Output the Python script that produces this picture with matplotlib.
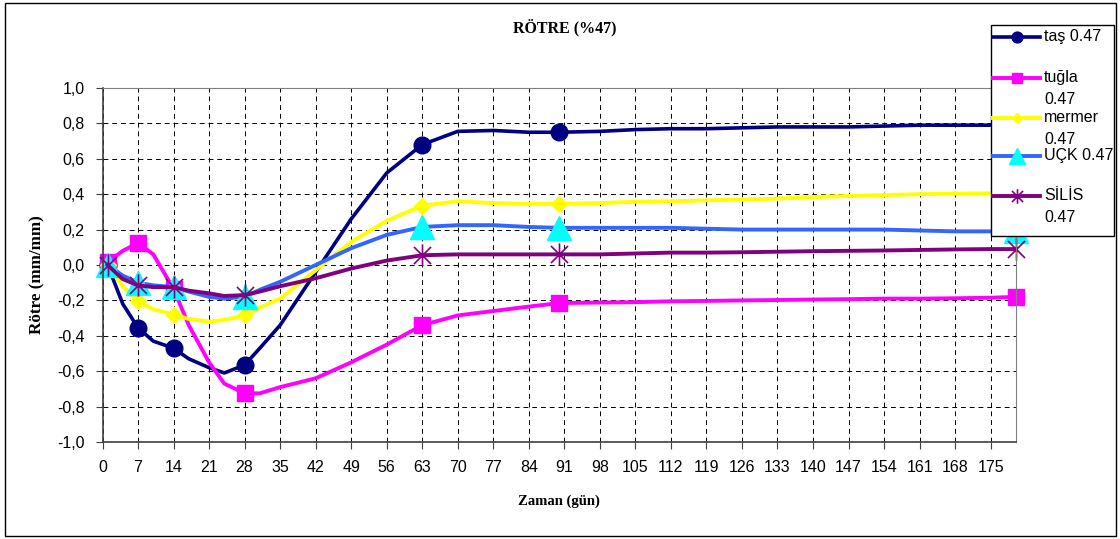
import numpy as np
import matplotlib
matplotlib.use("Agg")
import matplotlib.pyplot as plt
from matplotlib.path import Path
from matplotlib.lines import Line2D
from matplotlib.patches import Rectangle

# days (markers only at some of them)
days = [1, 4, 7, 10, 14, 17, 21, 24, 28, 31, 35, 42, 49, 56, 63, 70, 77, 84, 90,
        98, 105, 112, 119, 126, 133, 140, 147, 154, 161, 168, 175, 180]
marker_days = [1, 7, 14, 28, 63, 90, 180]

tas = [0.0, -0.22, -0.355, -0.43, -0.47, -0.53, -0.58, -0.61, -0.565, -0.47, -0.34,
       -0.04, 0.26, 0.52, 0.68, 0.755, 0.76, 0.75, 0.75, 0.755, 0.765, 0.77, 0.77,
       0.775, 0.78, 0.78, 0.78, 0.785, 0.79, 0.79, 0.79, 0.80]
tugla = [0.015, 0.08, 0.125, 0.06, -0.135, -0.34, -0.55, -0.67, -0.725, -0.725, -0.69,
         -0.64, -0.55, -0.45, -0.34, -0.285, -0.26, -0.235, -0.215, -0.212, -0.21,
         -0.205, -0.203, -0.2, -0.198, -0.195, -0.193, -0.19, -0.19, -0.188, -0.185, -0.18]
mermer = [0.0, -0.12, -0.205, -0.25, -0.28, -0.305, -0.32, -0.31, -0.285, -0.24, -0.19,
          -0.03, 0.13, 0.25, 0.335, 0.36, 0.35, 0.345, 0.345, 0.35, 0.357, 0.36, 0.365,
          0.37, 0.375, 0.385, 0.39, 0.395, 0.40, 0.403, 0.405, 0.41]
uck = [0.0, -0.06, -0.10, -0.115, -0.125, -0.15, -0.18, -0.19, -0.18, -0.14, -0.095,
       0.0, 0.095, 0.17, 0.215, 0.225, 0.225, 0.215, 0.21, 0.21, 0.21, 0.21, 0.205,
       0.20, 0.20, 0.20, 0.20, 0.20, 0.195, 0.19, 0.19, 0.19]
silis = [0.0, -0.08, -0.115, -0.125, -0.125, -0.145, -0.16, -0.175, -0.17, -0.15, -0.12,
         -0.075, -0.02, 0.025, 0.055, 0.06, 0.06, 0.06, 0.06, 0.06, 0.065, 0.07, 0.07,
         0.072, 0.075, 0.078, 0.08, 0.082, 0.085, 0.088, 0.09, 0.09]

labels = ["taş 0.47", "tuğla\n0.47", "mermer\n0.47", "UÇK 0.47", "SİLİS\n0.47"]
xticks = list(range(0, 176, 7))
yticks = [-1.0, -0.8, -0.6, -0.4, -0.2, 0.0, 0.2, 0.4, 0.6, 0.8, 1.0]
ytick_labels = ["-1,0", "-0,8", "-0,6", "-0,4", "-0,2", "0,0", "0,2", "0,4", "0,6", "0,8", "1,0"]

# excel style asterisk marker: X plus a vertical bar
star = Path([(-1, -1), (1, 1), (-1, 1), (1, -1), (0, -1.3), (0, 1.3)],
            [Path.MOVETO, Path.LINETO, Path.MOVETO, Path.LINETO, Path.MOVETO, Path.LINETO])

styles = [
    dict(color='#000080', lw=2.6, marker='o', ms=12, mfc='#000080', mec='#000080'),
    dict(color='#FF00FF', lw=2.8, marker='s', ms=11, mfc='#FF00FF', mec='#FF00FF'),
    dict(color='#FFFF00', lw=2.8, marker='D', ms=8.5, mfc='#FFFF00', mec='#FFFF00'),
    dict(color='#3366FF', lw=2.8, marker='^', ms=17, mfc='#00FFFF', mec='#00FFFF'),
    dict(color='#800080', lw=2.8, marker=star, ms=16, mfc='none', mec='#800080', mew=1.2),
]
series = [tas, tugla, mermer, uck, silis]

W, H = 1120, 539
fig = plt.figure(figsize=(W / 100, H / 100), dpi=100)
ax = fig.add_axes([102.5 / W, 1 - 442 / H, (1016 - 102.5) / W, (442 - 88) / H])

mark_idx = [days.index(d) for d in marker_days]
for ys, st in zip(series, styles):
    ax.plot(days, ys, markevery=mark_idx, solid_joinstyle='round', clip_on=False, **st)

ax.set_xlim(0, 180)
ax.set_ylim(-1.0, 1.0)
ax.set_xticks(xticks)
ax.set_xticklabels([str(t) for t in xticks])
ax.set_yticks(yticks)
ax.set_yticklabels(ytick_labels)
ax.tick_params(labelsize=11.5, length=5, width=0.8, color='#404040', pad=8)
for lab in ax.get_xticklabels() + ax.get_yticklabels():
    lab.set_family('Liberation Sans')
ax.grid(True, color='black', linestyle=(0, (5, 4)), linewidth=0.7)
ax.set_axisbelow(True)
for s in ['top', 'right']:
    ax.spines[s].set_color('#808080')
for s in ['left', 'bottom']:
    ax.spines[s].set_color('#404040')
    ax.spines[s].set_linewidth(1.2)

ax.set_xlabel("Zaman (gün)", fontfamily='Liberation Serif', fontweight='bold', fontsize=10.5, labelpad=14)
ax.set_ylabel("Rötre (mm/mm)", fontfamily='Liberation Serif', fontweight='bold', fontsize=12.3)
ax.yaxis.set_label_coords(-0.063, 0.472)
fig.text(565 / W, 1 - 28 / H, "RÖTRE (%47)", ha='center', va='center',
         fontfamily='Liberation Serif', fontweight='bold', fontsize=11.5)

# outer chart border
fig.add_artist(Rectangle((5 / W, 3 / H), (W - 9) / W, (H - 6) / H, transform=fig.transFigure,
                         fill=False, ec='black', lw=1.0))

# legend box drawn by hand (excel wraps long labels)
fig.add_artist(Rectangle((991 / W, 1 - 236 / H), (1114 - 991) / W, (236 - 25) / H,
                         transform=fig.transFigure, fc='white', ec='black', lw=1.0, zorder=5))
row_y = [37, 78, 118, 156, 196]
for lab, st, y in zip(labels, styles, row_y):
    st2 = dict(st)
    st2['ms'] = st['ms'] * 0.65
    fig.add_artist(Line2D([993 / W, 1017 / W, 1040 / W], [1 - y / H] * 3, markevery=[1],
                          transform=fig.transFigure, zorder=6, **st2))
    fig.text(1044 / W, 1 - (y - 8) / H, lab, ha='left', va='top', fontfamily='Liberation Sans',
             fontsize=11.5, linespacing=1.55, zorder=7)

fig.savefig("out.png", dpi=100)
